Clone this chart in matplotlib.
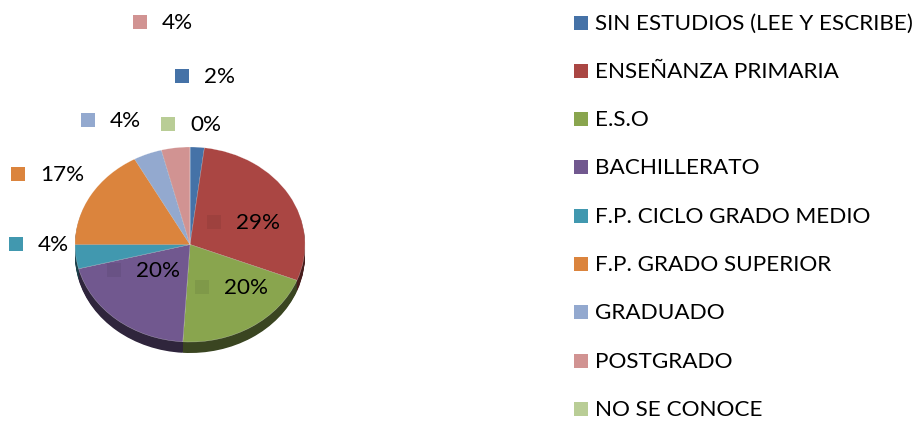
import numpy as np
import matplotlib
matplotlib.use("Agg")
import matplotlib.pyplot as plt
from matplotlib.colors import to_rgb
from matplotlib.patches import Rectangle

# data, in pie order (clockwise from 12 o'clock)
categories = ["SIN ESTUDIOS (LEE Y ESCRIBE)", "ENSEÑANZA PRIMARIA", "E.S.O",
              "BACHILLERATO", "F.P. CICLO GRADO MEDIO", "F.P. GRADO SUPERIOR",
              "GRADUADO", "POSTGRADO", "NO SE CONOCE"]
values = [2, 29, 20, 20, 4, 17, 4, 4, 0]
pct_labels = ["2%", "29%", "20%", "20%", "4%", "17%", "4%", "4%", "0%"]
colors = ["#4572A7", "#AA4643", "#89A54E", "#71588F", "#4198AF",
          "#DB843D", "#93A9CF", "#D19392", "#B9CD96"]

# label key positions (pixel, top-left of the square) -- Excel placed these
label_xy = [(175, 69), (207, 215), (195, 280), (107, 263), (9, 237),
            (11, 167), (81, 113), (133, 15), (161, 117)]
inside = [False, True, True, True, False, False, False, False, False]

W, H = 918, 421
FONT = ["Lato", "DejaVu Sans"]
FS = 16.2

fig = plt.figure(figsize=(W / 100, H / 100), dpi=100)


def dark(c, f):
    r, g, b = to_rgb(c)
    return (r * f, g * f, b * f)


# pie axes: ellipse 230 x 195 px, 11 px of depth underneath
left, right, top, bottom = 75, 305, 147, 353
ry_px = 97.5
depth = 11 / ry_px
pie_ax = fig.add_axes([left / W, 1 - bottom / H, (right - left) / W, (bottom - top) / H])

# side wall: stack of darker pies going down
for k in np.linspace(depth, 0.0, 14)[:-1]:
    pie_ax.pie(values, colors=[dark(c, 0.42) for c in colors], startangle=90,
               counterclock=False, radius=1, center=(0, -k),
               wedgeprops=dict(linewidth=0))
pie_ax.pie(values, colors=colors, startangle=90, counterclock=False, radius=1,
           wedgeprops=dict(linewidth=0.3, edgecolor=(1, 1, 1, 0.5)))
pie_ax.set_aspect("auto")
pie_ax.set_xlim(-1, 1)
pie_ax.set_ylim(-1 - depth, 1)
pie_ax.axis("off")

# overlay in pixel coordinates for the labels and legend
ov = fig.add_axes([0, 0, 1, 1])
ov.set_xlim(0, W)
ov.set_ylim(H, 0)
ov.axis("off")

sq = 14
for (x, y), lab, c, ins in zip(label_xy, pct_labels, colors, inside):
    ov.add_patch(Rectangle((x, y), sq, sq, facecolor=dark(c, 0.93) if ins else c,
                           edgecolor="none"))
    ov.text(x + sq + 15, y + sq / 2 + 1, lab, fontsize=FS, family=FONT,
            va="center", ha="left", color="black")

# legend
leg_y0, leg_dy = 22.5, 48.3
for i, (name, c) in enumerate(zip(categories, colors)):
    y = leg_y0 + i * leg_dy
    ov.add_patch(Rectangle((574, y - 7), sq, sq, facecolor=c, edgecolor="none"))
    ov.text(595, y + 1, name, fontsize=FS, family=FONT, va="center", ha="left",
            color="black")

fig.savefig("out.png", dpi=100)
